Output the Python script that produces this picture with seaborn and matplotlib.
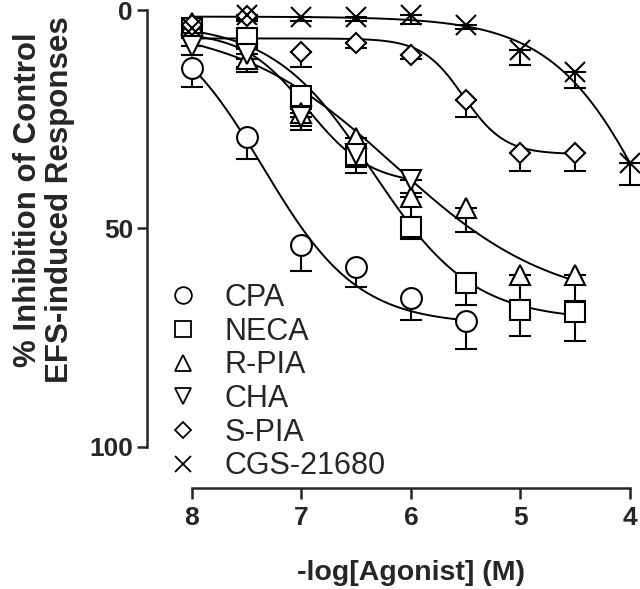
import numpy as np
import pandas as pd
import matplotlib
matplotlib.use("Agg")
import matplotlib.pyplot as plt
from matplotlib.lines import Line2D
import seaborn as sns

sns.set_style("ticks")
plt.rcParams['font.family'] = ['Liberation Sans', 'DejaVu Sans']

# -log[Agonist] (M) values used in the experiment
conc = [8, 7.5, 7, 6.5, 6, 5.5, 5, 4.5, 4]

agonists = ['CPA', 'NECA', 'R-PIA', 'CHA', 'S-PIA', 'CGS-21680']
markers = ['o', 's', '^', 'v', 'D', 'x']

# mean % inhibition and (one-sided) SEM
cpa_y = [13.3, 29.1, 53.8, 58.8, 65.9, 71.2]
cpa_err = [4.4, 4.9, 5.9, 4.7, 5.0, 6.5]
neca_y = [4.1, 6.4, 19.7, 33.2, 49.6, 62.5, 68.6, 69.1]
neca_err = [2.0, 2.5, 3.0, 4.0, 2.8, 5.0, 6.0, 6.6]
rpia_y = [3.0, 11.2, 23.5, 29.3, 42.8, 45.3, 60.6, 60.6]
rpia_err = [2.0, 3.0, 3.0, 3.0, 4.6, 5.5, 6.0, 6.0]
cha_y = [8.2, 10.0, 24.5, 33.0, 38.9]
cha_err = [2.0, 3.0, 3.0, 3.0, 3.0]
spia_y = [3.5, 1.4, 9.6, 7.6, 10.3, 20.6, 32.8, 32.8]
spia_err = [1.0, 1.0, 3.4, 1.0, 1.0, 3.9, 4.0, 4.0]
cgs_y = [4.1, 1.1, 1.5, 1.6, 1.1, 3.4, 9.2, 14.2, 35.0]
cgs_err = [1.0, 1.0, 1.0, 1.0, 2.0, 1.0, 3.4, 3.7, 5.0]

means = [cpa_y, neca_y, rpia_y, cha_y, spia_y, cgs_y]
errs = [cpa_err, neca_err, rpia_err, cha_err, spia_err, cgs_err]

# sigmoid fit parameters: top, bottom, pEC50, Hill slope
fit_top = [0, 3, 3, 5, 6.5, 1.5]
fit_bottom = [72, 71, 68, 40, 33, 100]
fit_pec50 = [7.35, 6.35, 6.15, 6.95, 5.52, 3.68]
fit_hill = [1.0, 0.95, 0.6, 1.5, 2.3, 0.9]

# --- fitted curves as a long table --- #
rows = []
for i, name in enumerate(agonists):
    last = conc[len(means[i]) - 1]
    xs = np.linspace(8, last, 200)
    ys = fit_top[i] + (fit_bottom[i] - fit_top[i]) / (1 + 10 ** ((xs - fit_pec50[i]) * fit_hill[i]))
    rows.append(pd.DataFrame({'x': xs, 'y': ys, 'agonist': name}))
curves = pd.concat(rows, ignore_index=True)

fig = plt.figure(figsize=(6.4, 5.89), dpi=100)
ax = fig.add_axes([0.2297, 0.1715, 0.758, 0.8285])

sns.lineplot(data=curves, x='x', y='y', units='agonist', estimator=None,
             color='black', lw=1.4, ax=ax, zorder=1, legend=False)

sizes = [15, 14.5, 15, 15, 10.5, 15]
for i, name in enumerate(agonists):
    n = len(means[i])
    ax.errorbar(conc[:n], means[i], yerr=[[0] * n, errs[i]], fmt=markers[i],
                ms=sizes[i], mfc='white', mec='black', mew=1.5,
                ecolor='black', elinewidth=1.5, capsize=7.9, capthick=1.8,
                clip_on=False)

ax.set_xlim(8.41, 3.98)
ax.set_ylim(109.4, -2.3)
ax.set_xticks([8, 7, 6, 5, 4])
ax.set_xticklabels(['8', '7', '6', '5', '4'])
ax.set_yticks([0, 50, 100])
ax.set_yticklabels(['0', '50', '100'])

sns.despine(ax=ax)
ax.spines['left'].set_bounds(0, 100)
ax.spines['bottom'].set_bounds(8, 4)
for s in ['left', 'bottom']:
    ax.spines[s].set_linewidth(1.8)
ax.tick_params(axis='both', width=1.8, labelsize=19, direction='out')
ax.tick_params(axis='y', length=7, pad=3)
ax.tick_params(axis='x', length=8, pad=5)
for lab in ax.get_xticklabels() + ax.get_yticklabels():
    lab.set_fontweight('bold')

ax.set_xlabel('-log[Agonist] (M)', fontsize=20.5, fontweight='bold')
ax.xaxis.set_label_coords(0.544, -0.148)
ax.set_ylabel('')
fig.text(44 / 640, 1 - 200 / 589, '% Inhibition of Control\nEFS-induced Responses',
         rotation=90, ha='center', va='center', fontsize=22.5, fontweight='bold',
         linespacing=1.05)

handles = [Line2D([], [], marker=m, ls='none', ms=12 if m != 'D' else 8.5,
                  mfc='white', mec='black', mew=1.3) for m in markers]
ax.legend(handles, agonists, loc='upper left', bbox_to_anchor=(0.043, 0.42),
          frameon=False, fontsize=22, handlelength=1.0, handletextpad=0.85,
          labelspacing=0.12, borderpad=0, borderaxespad=0)

plt.savefig('out.png', dpi=100)
